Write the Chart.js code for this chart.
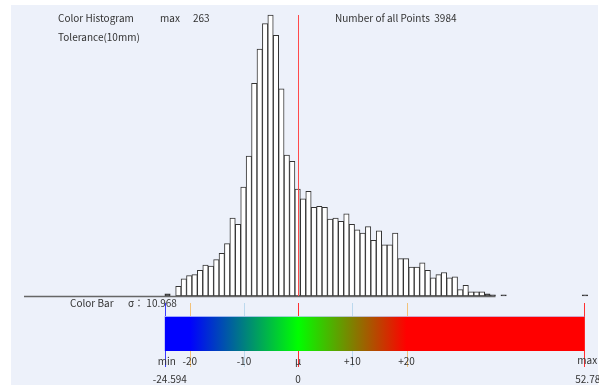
<!DOCTYPE html>
<html>
<head>
<meta charset="utf-8">
<script src="https://cdn.jsdelivr.net/npm/chart.js@4.4.0/dist/chart.umd.min.js"></script>
<style>
  html, body { margin: 0; padding: 0; background: #fff; }
  #wrap { position: relative; width: 599px; height: 385px; }
</style>
</head>
<body>
<div id="wrap"><canvas id="hist"></canvas></div>
<script>
// histogram bins: 1 mm wide, starting at the minimum deviation
const binStart = -24.594;
const binWidth = 1;
const counts = [
  2, 0, 9, 16, 19, 20, 24, 29, 28, 34,
  40, 49, 73, 67, 102, 131, 199, 231, 255, 263,
  244, 194, 132, 126, 100, 91, 98, 83, 84, 83,
  72, 73, 70, 77, 67, 62, 59, 65, 52, 61,
  48, 48, 59, 35, 35, 27, 27, 31, 24, 17,
  20, 22, 17, 18, 6, 10, 4, 4, 4, 2,
  1, 0, 1, 0, 0, 0, 0, 0, 0, 0,
  0, 0, 0, 0, 0, 0, 0, 1
];

// summary values
const valueMin = -24.594;
const valueMax = 52.78;
const sigma = 10.968;
const maxCount = 263;
const totalPoints = 3984;

// color bar ticks
const barTicks = [-20, -10, 0, 10, 20];
const barTickLabels = ["-20", "-10", "\u03bc", "+10", "+20"];

const tickColors = ["#f2c27a", "#bcd9ee", "#ff3030", "#bcd9ee", "#f2c27a"];
const textColor = "#333";
const font = "10px 'Noto Sans CJK JP', 'Noto Sans', sans-serif";

const histData = counts.map((c, i) => ({ x: binStart + binWidth * (i + 0.5), y: c }));

const background = {
  id: "background",
  beforeDraw(chart) {
    const ctx = chart.ctx;
    ctx.save();
    ctx.fillStyle = "#ffffff";
    ctx.fillRect(0, 0, chart.width, chart.height);
    ctx.fillStyle = "#edf1fa";
    ctx.fillRect(11, 5, chart.width - 12, chart.height - 5);
    ctx.restore();
  }
};

const overlay = {
  id: "overlay",
  afterDatasetsDraw(chart) {
    const ctx = chart.ctx;
    const x = chart.scales.x;
    const y = chart.scales.y;
    const px = (v) => x.getPixelForValue(v);
    const base = y.getPixelForValue(0);

    ctx.save();

    // baseline under the bars
    ctx.strokeStyle = "#666";
    ctx.lineWidth = 1.5;
    ctx.beginPath();
    ctx.moveTo(24, base + 0.5);
    ctx.lineTo(px(binStart + 61 * binWidth), base + 0.5);
    ctx.stroke();

    // mean line
    ctx.strokeStyle = "#ff4a4a";
    ctx.lineWidth = 1;
    ctx.beginPath();
    ctx.moveTo(Math.round(px(0)) + 0.5, y.getPixelForValue(maxCount));
    ctx.lineTo(Math.round(px(0)) + 0.5, base);
    ctx.stroke();

    // headings
    ctx.fillStyle = textColor;
    ctx.font = font;
    ctx.textBaseline = "middle";
    ctx.textAlign = "left";
    ctx.fillText("Color Histogram", 58, 18);
    ctx.fillText("max", 160, 18);
    ctx.fillText(String(maxCount), 193, 18);
    ctx.fillText("Tolerance(10mm)", 58, 37);
    ctx.fillText("Number of all Points  " + totalPoints, 335, 18);
    ctx.fillText("Color Bar", 70, 303);
    ctx.fillText("\u03c3\uff1a " + sigma.toFixed(3), 128, 303);

    // tick lines behind the color bar
    const tickTop = 303, tickBottom = 367;
    const vline = (v, color) => {
      const xx = Math.round(px(v)) + 0.5;
      ctx.strokeStyle = color;
      ctx.lineWidth = 1;
      ctx.beginPath();
      ctx.moveTo(xx, tickTop);
      ctx.lineTo(xx, tickBottom);
      ctx.stroke();
    };
    barTicks.forEach((t, i) => vline(t, tickColors[i]));
    vline(valueMin, "#3a3aff");
    vline(valueMax, "#ff3030");

    // color bar
    const barTop = 316, barBottom = 351;
    const grad = ctx.createLinearGradient(px(-20), 0, px(20), 0);
    grad.addColorStop(0, "#0000ff");
    grad.addColorStop(0.5, "#00ff00");
    grad.addColorStop(1, "#ff0000");
    ctx.fillStyle = grad;
    ctx.fillRect(px(valueMin), barTop, px(valueMax) - px(valueMin), barBottom - barTop);
    ctx.strokeStyle = "rgba(200,210,255,0.8)";
    ctx.beginPath();
    ctx.moveTo(px(valueMin), barTop + 0.5);
    ctx.lineTo(px(valueMax), barTop + 0.5);
    ctx.stroke();

    // tick labels
    ctx.fillStyle = textColor;
    ctx.textAlign = "center";
    barTicks.forEach((t, i) => ctx.fillText(barTickLabels[i], px(t), 361));
    ctx.fillText("min", px(valueMin) + 2, 361);
    ctx.textAlign = "left";
    ctx.fillText("max", px(valueMax) - 7, 360);

    ctx.textAlign = "center";
    ctx.fillText(valueMin.toFixed(3), px(valueMin) + 5, 379);
    ctx.fillText("0", px(0), 379);
    ctx.textAlign = "left";
    ctx.fillText(valueMax.toFixed(2), px(valueMax) - 9, 379);

    ctx.restore();
  }
};

new Chart(document.getElementById("hist"), {
  type: "bar",
  data: {
    datasets: [{
      data: histData,
      // one- and two-count bins are too flat to show a white inside
      backgroundColor: (c) => (c.raw && c.raw.y <= 2 ? "#333333" : "#ffffff"),
      borderColor: "#333333",
      borderWidth: 1,
      borderSkipped: false,
      barPercentage: 1,
      categoryPercentage: 1,
      clip: false
    }]
  },
  options: {
    responsive: true,
    maintainAspectRatio: false,
    animation: false,
    layout: { padding: { top: 15, bottom: 89, left: 0, right: 0 } },
    scales: {
      x: { type: "linear", min: -55, max: 55.5, offset: false, grid: { offset: false }, display: false },
      y: { min: 0, max: maxCount, display: false }
    },
    plugins: {
      legend: { display: false },
      tooltip: { enabled: false }
    }
  },
  plugins: [background, overlay]
});
</script>
</body>
</html>
